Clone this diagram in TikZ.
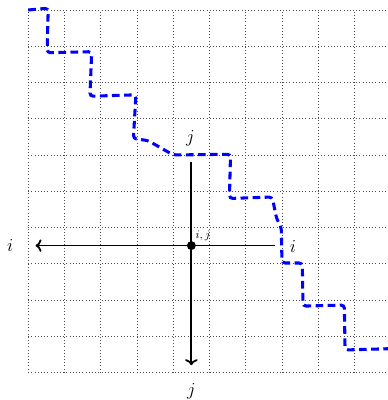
\documentclass[tikz,border=0pt]{standalone}
\usetikzlibrary{arrows.meta}
\begin{document}
\begin{tikzpicture}[x=1cm,y=1cm,
  gridline/.style={dotted, line width=0.5pt, black!70},
  axisline/.style={line width=1.4pt, black},
  walk/.style={blue, line width=2.4pt, dash pattern=on 6pt off 3.5pt, rounded corners=2.5pt},
  lbl/.style={font=\Large, inner sep=0pt},
  slbl/.style={font=\small, inner sep=0pt}]
\useasboundingbox (-0.78,-0.76) rectangle (9.92,10.276);
\draw[gridline] (0,0) grid (10,10);
\draw[walk] (0,10) -- (0.55,10.05) -- (0.52,8.82) -- (1.75,8.85) -- (1.7,7.62)
  -- (2.97,7.66) -- (2.9,6.45) -- (3.3,6.4) -- (4.0,6.0) -- (5.58,6.02)
  -- (5.55,4.8) -- (6.73,4.84) -- (6.85,4.25) -- (6.98,4.0) -- (7.0,3.02)
  -- (7.56,3.02) -- (7.58,1.83) -- (8.72,1.86) -- (8.74,0.62) -- (10.1,0.66);
\node[circle, fill=black, inner sep=0pt, minimum size=7pt] (c) at (4.5,3.5) {};
\coordinate (L) at (0.2,3.5);
\coordinate (R) at (6.8,3.5);
\coordinate (U) at (4.5,5.8);
\coordinate (D) at (4.5,0.2);
\draw[axisline, ->] (c.center) -- (L);
\draw[axisline] (c.center) -- (R);
\draw[axisline] (c.center) -- (U);
\draw[axisline, ->] (c.center) -- (D);
\node[lbl] (il) at (-0.5,3.5) {$i$};
\node[lbl] (ir) at (7.3,3.47) {$i$};
\node[lbl] (jt) at (4.47,6.45) {$j$};
\node[lbl] (jb) at (4.5,-0.53) {$j$};
\node[slbl] (ij) at (4.82,3.77) {$i,j$};
\end{tikzpicture}
\end{document}
